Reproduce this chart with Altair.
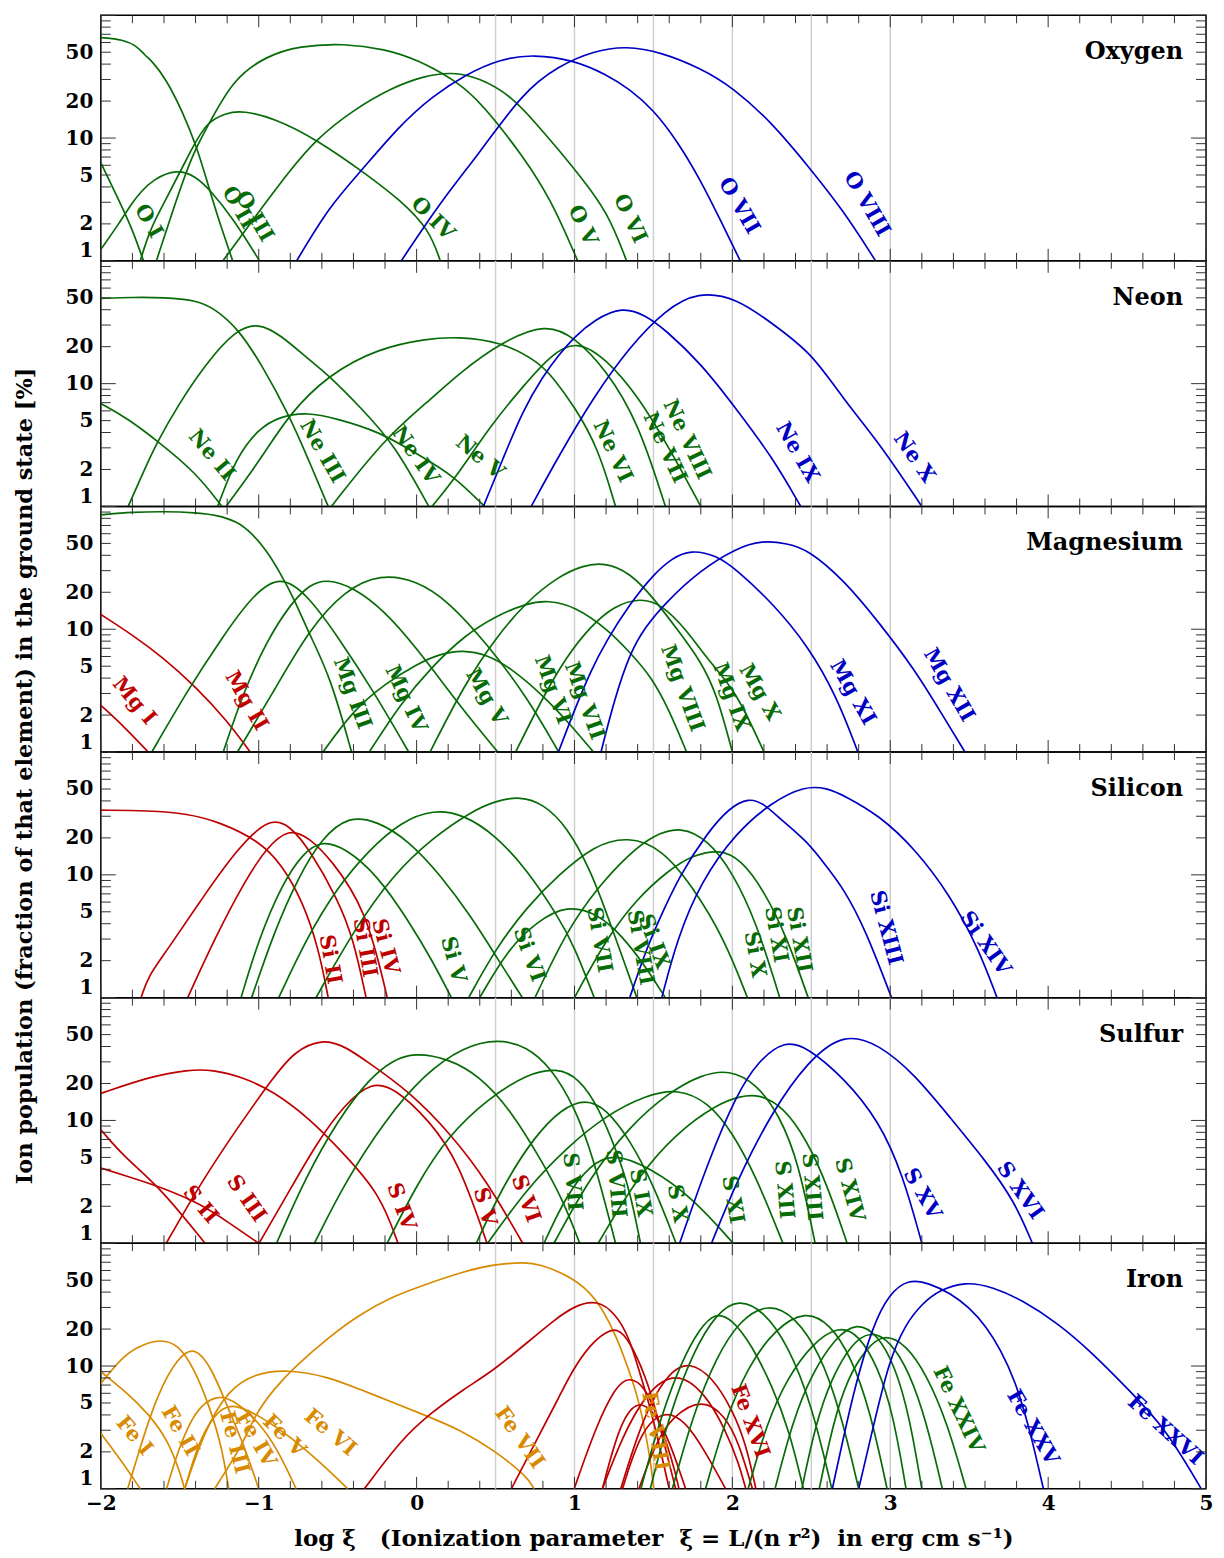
import altair as alt
import pandas as pd

GREEN = "#076b07"
BLUE = "#0000c4"
RED = "#bd0000"
ORANGE = "#d88a00"
GRID_COLOR = "#cfcfcf"
TICK_COLOR = "#333333"
FONT = "DejaVu Serif"

W, H = 1107, 246

NB = "\u00a0"
X_TITLE = f"log ξ{NB}{NB}{NB}(Ionization parameter{NB}{NB}ξ{NB}={NB}L/(n{NB}r²){NB}{NB}in erg{NB}cm{NB}s⁻¹)"
Y_TITLE = "Ion population (fraction of that element) in the ground state  [%]"

GRID_X = [0.5, 1.0, 1.5, 2.0, 2.5, 3.0]
X_TICK_LABELS = [-2, -1, 0, 1, 2, 3, 4, 5]
Y_TICK_LABELS = [1, 2, 5, 10, 20, 50]
X_MAJOR = [-2, -1, 0, 1, 2, 3, 4, 5]
X_MINOR = [round(-2 + 0.2 * i, 1) for i in range(36) if i % 5 != 0]
Y_MAJOR = [1, 10, 100]
Y_MINOR = [2, 3, 4, 5, 6, 7, 8, 9, 20, 30, 40, 50, 60, 70, 80, 90]

# ---------------- Oxygen ----------------
OXYGEN_CURVES = [
    ("O I", GREEN, [(-2, 6.3), (-1.88, 3.0), (-1.8, 1.8), (-1.73, 1.0)]),
    ("O II", GREEN, [(-2, 65.8), (-1.86, 63.5), (-1.77, 56), (-1.72, 47), (-1.68, 43), (-1.585, 30),
                     (-1.48, 16.1), (-1.395, 8.6), (-1.33, 4.6), (-1.27, 2.5), (-1.165, 1)]),
    ("O III", GREEN, [(-2, 1.24), (-1.88, 2.05), (-1.8, 3.0), (-1.75, 3.6), (-1.67, 4.6), (-1.52, 5.6),
                      (-1.4, 4.9), (-1.31, 3.8), (-1.16, 2.2), (-0.995, 1)]),
    ("O IV", GREEN, [(-1.75, 1), (-1.69, 1.8), (-1.585, 3.2), (-1.416, 8.6), (-1.33, 13.4), (-1.205, 16.1),
                     (-1.1, 16.7), (-0.9, 14.5), (-0.636, 9.8), (-0.32, 5.1), (-0.1, 3.1), (0.08, 1.8), (0.15, 1)]),
    ("O V", GREEN, [(-1.648, 1), (-1.52, 3.2), (-1.416, 7.6), (-1.31, 13.4), (-1.163, 30), (-0.952, 46.7),
                    (-0.742, 56.3), (-0.46, 59), (-0.2, 53), (0, 44), (0.31, 26.6), (0.49, 14.3), (0.67, 7.2),
                    (0.85, 3.2), (1.02, 1)]),
    ("O VI", GREEN, [(-1.227, 1), (-1.0, 2.5), (-0.8, 5.5), (-0.636, 9.8), (-0.4, 17), (-0.15, 26), (0.05, 32),
                     (0.22, 34.6), (0.4, 31), (0.6, 22), (0.76, 13), (0.9, 8), (1.03, 5), (1.21, 2.5), (1.33, 1)]),
    ("O VII", BLUE, [(-0.76, 1), (-0.55, 2.8), (-0.362, 5.2), (-0.109, 12.6), (0.101, 22), (0.313, 33),
                     (0.523, 43.8), (0.74, 48.2), (1.0, 43), (1.2, 33), (1.35, 25), (1.5, 17), (1.65, 9.5),
                     (1.8, 4.5), (1.92, 2.2), (2.05, 1)]),
    ("O VIII", BLUE, [(-0.097, 1), (0.15, 3), (0.4, 7.6), (0.672, 23.5), (0.898, 38.7), (1.124, 51.3),
                      (1.327, 56.3), (1.55, 50), (1.8, 37), (2.0, 26), (2.25, 13.4), (2.48, 5.9), (2.7, 2.6),
                      (2.907, 1)]),
]
OXYGEN_LABELS = [
    ("O I", GREEN, -1.70, 2.1, 60), ("O II", GREEN, -1.13, 2.7, 60), ("O III", GREEN, -1.03, 2.3, 60),
    ("O IV", GREEN, 0.10, 2.2, 45), ("O V", GREEN, 1.05, 1.94, 65), ("O VI", GREEN, 1.35, 2.2, 65),
    ("O VII", BLUE, 2.04, 2.8, 60), ("O VIII", BLUE, 2.85, 2.9, 60),
]

# ---------------- Neon ----------------
NEON_CURVES = [
    ("Ne II", GREEN, [(-2, 6.9), (-1.83, 5.2), (-1.64, 3.4), (-1.4, 1.9), (-1.233, 1)]),
    ("Ne III", GREEN, [(-2, 49.4), (-1.8, 50.5), (-1.6, 50.3), (-1.4, 48), (-1.28, 41), (-1.13, 28),
                       (-0.98, 14.2), (-0.81, 5.6), (-0.69, 2.5), (-0.56, 1)]),
    ("Ne IV", GREEN, [(-1.827, 1), (-1.72, 2.05), (-1.64, 3.4), (-1.51, 6.7), (-1.34, 14.2), (-1.15, 27.3),
                      (-1.0, 31.3), (-0.86, 24.8), (-0.69, 16), (-0.56, 11.8), (-0.35, 6.3), (-0.14, 3.2),
                      (0.077, 1)]),
    ("Ne V", GREEN, [(-1.26, 1), (-1.144, 2.5), (-1.0, 4.3), (-0.87, 5.4), (-0.69, 5.85), (-0.51, 5.2),
                     (-0.24, 4.1), (0.02, 2.6), (0.23, 1.8), (0.43, 1)]),
    ("Ne VI", GREEN, [(-1.207, 1), (-0.98, 2.5), (-0.81, 5.6), (-0.56, 11.8), (-0.245, 19.4), (0.07, 23.3),
                      (0.26, 24.1), (0.54, 21.9), (0.77, 15.1), (0.87, 11), (1.0, 6.5), (1.15, 3), (1.26, 1)]),
    ("Ne VII", GREEN, [(-0.54, 1), (-0.2, 3.6), (0.07, 7.1), (0.28, 12.5), (0.54, 21.9), (0.82, 31), (1.0, 24),
                       (1.2, 13), (1.4, 5), (1.576, 1)]),
    ("Ne VIII", GREEN, [(0.097, 1), (0.26, 1.8), (0.47, 4.6), (0.68, 9.7), (0.85, 17.1), (1.01, 22.7),
                        (1.2, 16), (1.4, 8), (1.6, 3), (1.8, 1)]),
    ("Ne IX", BLUE, [(0.423, 1), (0.55, 2.5), (0.672, 6), (0.8, 11.5), (0.898, 17), (1.0, 24), (1.124, 33),
                     (1.304, 42.5), (1.45, 36), (1.576, 27.4), (1.8, 14.7), (2.03, 6.1), (2.25, 2.55),
                     (2.433, 1)]),
    ("Ne X", BLUE, [(0.726, 1), (0.898, 2.55), (1.124, 7.9), (1.35, 20), (1.576, 40), (1.78, 56.3),
                    (2.03, 49.7), (2.25, 31), (2.5, 18), (2.705, 7.4), (2.93, 3.3), (3.2, 1)]),
]
NEON_LABELS = [
    ("Ne II", GREEN, -1.30, 2.6, 50), ("Ne III", GREEN, -0.60, 2.8, 60), ("Ne IV", GREEN, -0.01, 2.6, 55),
    ("Ne V", GREEN, 0.40, 2.5, 40), ("Ne VI", GREEN, 1.24, 2.8, 65), ("Ne VII", GREEN, 1.57, 3.0, 65),
    ("Ne VIII", GREEN, 1.71, 3.5, 65), ("Ne IX", BLUE, 2.41, 2.75, 60), ("Ne X", BLUE, 3.15, 2.5, 55),
]

# ---------------- Magnesium ----------------
MAGNESIUM_CURVES = [
    ("Mg I", RED, [(-2, 2.4), (-1.85, 1.6), (-1.7, 1)]),
    ("Mg II", RED, [(-2, 13.2), (-1.8, 9), (-1.6, 5.8), (-1.4, 3.4), (-1.2, 1.8), (-1.054, 1)]),
    ("Mg III", GREEN, [(-2, 85.5), (-1.8, 90), (-1.586, 91), (-1.4, 89), (-1.27, 85.5), (-1.135, 75.5),
                       (-1.045, 60.7), (-0.954, 44.4), (-0.863, 28.7), (-0.773, 17.4), (-0.683, 9.3),
                       (-0.547, 4.15), (-0.412, 1)]),
    ("Mg IV", GREEN, [(-1.677, 1), (-1.45, 3.2), (-1.225, 8.8), (-1.045, 18.5), (-0.863, 28.2), (-0.683, 18.5),
                      (-0.502, 8.8), (-0.277, 3.2), (-0.05, 1)]),
    ("Mg V", GREEN, [(-1.225, 1), (-1.1, 3), (-0.95, 8), (-0.8, 16), (-0.68, 23), (-0.57, 25.7), (-0.4, 22),
                     (-0.2, 14), (0.0, 7), (0.2, 3.2), (0.35, 1.8), (0.514, 1)]),
    ("Mg VI", GREEN, [(-1.135, 1), (-0.9, 3.2), (-0.68, 10), (-0.45, 21), (-0.23, 28.2), (0.0, 25), (0.2, 17),
                      (0.45, 7.5), (0.7, 2.8), (0.9, 1)]),
    ("Mg VII", GREEN, [(-0.593, 1), (-0.4, 2.2), (-0.2, 3.6), (0, 5.2), (0.15, 6.3), (0.288, 6.8), (0.45, 6.2),
                       (0.6, 4.8), (0.8, 2.9), (0.97, 1.7), (1.12, 1)]),
    ("Mg VIII", GREEN, [(-0.3, 1), (-0.1, 2.5), (0.1, 5), (0.3, 8.8), (0.5, 12.8), (0.7, 16.3), (0.83, 17.2),
                        (1.0, 15.5), (1.214, 9.9), (1.35, 6.5), (1.484, 4.15), (1.6, 2.2), (1.71, 1)]),
    ("Mg IX", GREEN, [(0.085, 1), (0.3, 3.5), (0.5, 8.5), (0.7, 17), (0.9, 27), (1.05, 33), (1.19, 35),
                      (1.35, 29), (1.5, 18), (1.65, 10), (1.8, 5.5), (1.9, 3), (2.0, 1)]),
    ("Mg X", GREEN, [(0.627, 1), (0.8, 2.8), (0.95, 6), (1.1, 10.5), (1.25, 15.5), (1.417, 18), (1.55, 16),
                     (1.71, 9.9), (1.85, 5.5), (2.02, 3.2), (2.2, 1)]),
    ("Mg XI", BLUE, [(0.898, 1), (1.0, 2.2), (1.1, 4.5), (1.2, 8), (1.35, 16), (1.5, 28), (1.62, 38),
                     (1.733, 44.4), (1.9, 40), (2.027, 30.5), (2.253, 16.4), (2.48, 7.3), (2.66, 2.85),
                     (2.795, 1)]),
    ("Mg XII", BLUE, [(1.168, 1), (1.25, 2.6), (1.35, 6.4), (1.45, 10.5), (1.575, 16.4), (1.8, 30.5),
                      (2.027, 45.8), (2.185, 52.9), (2.35, 50), (2.48, 44.4), (2.705, 25.3), (2.93, 11.3),
                      (3.155, 4.7), (3.335, 1.96), (3.473, 1)]),
]
MAGNESIUM_LABELS = [
    ("Mg I", RED, -1.79, 2.6, 50), ("Mg II", RED, -1.08, 2.6, 60), ("Mg III", GREEN, -0.41, 3.0, 70),
    ("Mg IV", GREEN, -0.07, 2.7, 65), ("Mg V", GREEN, 0.44, 2.8, 60), ("Mg VI", GREEN, 0.86, 3.2, 70),
    ("Mg VII", GREEN, 1.06, 2.6, 70), ("Mg VIII", GREEN, 1.68, 3.3, 70), ("Mg IX", GREEN, 1.99, 2.8, 70),
    ("Mg X", GREEN, 2.17, 3.05, 60), ("Mg XI", BLUE, 2.76, 3.05, 60), ("Mg XII", BLUE, 3.37, 3.5, 60),
]

# ---------------- Silicon ----------------
SILICON_CURVES = [
    ("Si II", RED, [(-2, 33.6), (-1.7, 33.4), (-1.45, 31.5), (-1.25, 27), (-1.0, 19), (-0.85, 12), (-0.72, 6),
                    (-0.62, 2.5), (-0.56, 1)]),
    ("Si III", RED, [(-1.745, 1), (-1.7, 1.5), (-1.586, 2.37), (-1.36, 6.4), (-1.135, 16.4), (-0.93, 29.6),
                     (-0.8, 25), (-0.683, 16.4), (-0.5, 6.4), (-0.4, 3), (-0.32, 1)]),
    ("Si IV", RED, [(-1.45, 1), (-1.27, 3.2), (-1.09, 8.8), (-0.954, 16.4), (-0.81, 24.1), (-0.68, 20),
                    (-0.547, 13.6), (-0.32, 5.3), (-0.186, 1)]),
    ("Si V", GREEN, [(-1.112, 1), (-1.0, 3), (-0.85, 8.5), (-0.72, 15), (-0.6, 19.1), (-0.45, 16.5),
                     (-0.25, 10), (-0.05, 4.2), (0.1, 2), (0.22, 1)]),
    ("Si VI", GREEN, [(-1.045, 1), (-0.9, 3.5), (-0.75, 9.5), (-0.6, 20), (-0.43, 30.2), (-0.25, 27.5),
                      (-0.05, 19), (0.15, 10), (0.35, 4.5), (0.52, 2), (0.67, 1)]),
    ("Si VII", GREEN, [(-0.873, 1), (-0.7, 3), (-0.5, 8), (-0.3, 16), (-0.1, 27), (0.107, 34.2), (0.3, 31),
                       (0.5, 21), (0.7, 11), (0.9, 4.5), (1.0, 2.6), (1.125, 1)]),
    ("Si VIII", GREEN, [(-0.637, 1), (-0.4, 3.5), (-0.15, 10), (0.1, 20), (0.35, 33), (0.5, 40), (0.658, 43.6),
                        (0.8, 38), (0.95, 25), (1.1, 11), (1.2, 5), (1.3, 2.2), (1.395, 1)]),
    ("Si IX", GREEN, [(0.4, 1), (0.58, 2.5), (0.762, 4.15), (0.95, 5.7), (1.15, 4.8), (1.3, 3.2), (1.45, 1.8),
                      (1.575, 1)]),
    ("Si X", GREEN, [(0.33, 1), (0.5, 2.5), (0.7, 5.5), (0.9, 10), (1.125, 17.4), (1.34, 20.6), (1.55, 16.5),
                     (1.75, 8), (1.95, 3), (2.095, 1)]),
    ("Si XI", GREEN, [(0.75, 1), (0.95, 3.5), (1.15, 8), (1.35, 15), (1.5, 21), (1.675, 24.9), (1.85, 19),
                      (2.0, 10.5), (2.15, 4.2), (2.3, 1)]),
    ("Si XII", GREEN, [(1.0, 1), (1.2, 3), (1.4, 6.5), (1.6, 11), (1.75, 14.5), (1.919, 16.1), (2.05, 13.5),
                       (2.2, 7.5), (2.35, 3), (2.48, 1)]),
    ("Si XIII", BLUE, [(1.35, 1), (1.44, 2.2), (1.53, 4.15), (1.665, 9.9), (1.846, 22.4), (1.98, 35),
                       (2.104, 42.5), (2.2, 38), (2.3, 28.7), (2.48, 18.5), (2.6, 11.5), (2.705, 7.7),
                       (2.84, 3.66), (3.008, 1)]),
    ("Si XIV", BLUE, [(1.553, 1), (1.65, 3), (1.8, 8.8), (2.027, 22.4), (2.253, 39.2), (2.456, 52.9),
                      (2.6, 51), (2.705, 44.4), (2.93, 30.5), (3.155, 16.4), (3.38, 6.8), (3.56, 2.5),
                      (3.676, 1)]),
]
SILICON_LABELS = [
    ("Si II", RED, -0.55, 2.04, 80), ("Si III", RED, -0.33, 2.55, 80), ("Si IV", RED, -0.2, 2.6, 75),
    ("Si V", GREEN, 0.23, 2.04, 75), ("Si VI", GREEN, 0.71, 2.24, 70), ("Si VII", GREEN, 1.155, 2.95, 80),
    ("Si VIII", GREEN, 1.415, 2.55, 80), ("Si IX", GREEN, 1.5, 2.85, 70), ("Si X", GREEN, 2.14, 2.24, 80),
    ("Si XI", GREEN, 2.275, 3.25, 80), ("Si XII", GREEN, 2.42, 2.95, 80), ("Si XIII", BLUE, 2.97, 3.7, 75),
    ("Si XIV", BLUE, 3.6, 2.75, 55),
]

# ---------------- Sulfur ----------------
SULFUR_CURVES = [
    ("S II", RED, [(-2, 8.4), (-1.85, 5), (-1.63, 2.9), (-1.34, 1)]),
    ("S III", RED, [(-2, 4.1), (-1.8, 3.4), (-1.63, 2.9), (-1.36, 2.07), (-1.2, 1.5), (-1.0, 1)]),
    ("S IV", RED, [(-2, 16.6), (-1.677, 23), (-1.45, 25.8), (-1.293, 26), (-1.1, 22.5), (-0.909, 17.3),
                   (-0.683, 10.5), (-0.457, 5.3), (-0.23, 2.5), (-0.118, 1)]),
    ("S V", RED, [(-0.998, 1), (-0.818, 2.5), (-0.638, 6.4), (-0.457, 13.5), (-0.286, 20.7), (-0.14, 18.5),
                  (0.084, 9.9), (0.265, 4.66), (0.446, 1)]),
    ("S VI", RED, [(-1.586, 1), (-1.36, 3.2), (-1.135, 8.7), (-0.909, 22.3), (-0.773, 36.7), (-0.6, 46.3),
                   (-0.45, 40), (-0.32, 30.5), (-0.05, 17.4), (0.22, 7.7), (0.446, 3.2), (0.672, 1)]),
    ("S VII", GREEN, [(-0.887, 1), (-0.7, 3.5), (-0.5, 10), (-0.3, 22), (-0.15, 31), (-0.015, 35.6), (0.2, 32),
                      (0.4, 23), (0.6, 12), (0.8, 4.5), (0.93, 2.2), (1.033, 1)]),
    ("S VIII", GREEN, [(-0.647, 1), (-0.45, 3.2), (-0.2, 10), (0.05, 24), (0.3, 40), (0.514, 46.3), (0.7, 40),
                       (0.85, 27), (1.0, 13), (1.12, 5), (1.26, 1)]),
    ("S IX", GREEN, [(-0.186, 1), (0.0, 3), (0.2, 7.5), (0.45, 15), (0.7, 24), (0.889, 26.9), (1.03, 22),
                     (1.15, 13), (1.27, 5.5), (1.35, 2.7), (1.418, 1)]),
    ("S X", GREEN, [(0.378, 1), (0.55, 3), (0.75, 7.5), (0.92, 12.5), (1.07, 15), (1.2, 12.5), (1.35, 7),
                    (1.5, 3), (1.643, 1)]),
    ("S XI", GREEN, [(0.807, 1), (0.95, 2.5), (1.1, 4.3), (1.237, 5.45), (1.485, 4.1), (1.755, 2.3), (2.005, 1)]),
    ("S XII", GREEN, [(0.45, 1), (0.7, 2.8), (0.95, 6), (1.2, 11), (1.45, 16), (1.657, 18.2), (1.85, 14),
                      (2.0, 8), (2.15, 3.5), (2.32, 1)]),
    ("S XIII", GREEN, [(0.87, 1), (1.1, 3.5), (1.35, 9), (1.6, 17), (1.8, 23.5), (1.982, 26), (2.15, 20),
                       (2.3, 11), (2.42, 4.5), (2.524, 1)]),
    ("S XIV", GREEN, [(1.15, 1), (1.4, 3.5), (1.65, 8), (1.9, 13.5), (2.05, 15.8), (2.172, 16.3), (2.32, 13),
                      (2.47, 7), (2.6, 3), (2.727, 1)]),
    ("S XV", BLUE, [(1.666, 1), (1.847, 4.66), (2.027, 16.3), (2.163, 30.5), (2.335, 45.2), (2.479, 39.1),
                    (2.705, 22.3), (2.93, 9.9), (3.08, 3.6), (3.2, 1)]),
    ("S XVI", BLUE, [(1.868, 1), (2.027, 3.2), (2.253, 11.9), (2.479, 30.5), (2.705, 51.8), (2.93, 41.7),
                     (3.155, 23.7), (3.38, 10.5), (3.606, 4.66), (3.787, 2.2), (3.9, 1)]),
]
SULFUR_LABELS = [
    ("S II", RED, -1.37, 2.06, 50), ("S III", RED, -1.08, 2.3, 55), ("S IV", RED, -0.1, 1.98, 70),
    ("S V", RED, 0.43, 1.98, 75), ("S VI", RED, 0.69, 2.3, 70), ("S VII", GREEN, 0.985, 3.16, 85),
    ("S VIII", GREEN, 1.26, 3.05, 85), ("S IX", GREEN, 1.415, 2.57, 80), ("S X", GREEN, 1.65, 2.1, 80),
    ("S XI", GREEN, 2.0, 2.26, 80), ("S XII", GREEN, 2.325, 2.72, 85), ("S XIII", GREEN, 2.5, 2.88, 85),
    ("S XIV", GREEN, 2.74, 2.72, 75), ("S XV", BLUE, 3.2, 2.52, 60), ("S XVI", BLUE, 3.82, 2.67, 55),
]

# ---------------- Iron ----------------
IRON_CURVES = [
    ("Fe I", ORANGE, [(-2, 2.83), (-1.87, 1.7), (-1.75, 1)]),
    ("Fe II", ORANGE, [(-2, 9.0), (-1.83, 6.0), (-1.7, 4.1), (-1.574, 2.5), (-1.49, 1.26), (-1.47, 1)]),
    ("Fe III", ORANGE, [(-2, 7.2), (-1.85, 12.6), (-1.72, 15.2), (-1.627, 16.4), (-1.51, 15.2), (-1.405, 9.3),
                        (-1.32, 5.0), (-1.236, 2.3), (-1.19, 1)]),
    ("Fe IV", ORANGE, [(-1.83, 1), (-1.75, 2.2), (-1.64, 6.0), (-1.51, 11.9), (-1.405, 14.5), (-1.3, 9.8),
                       (-1.19, 4.4), (-1.09, 2.2), (-1.0, 1)]),
    ("Fe V", ORANGE, [(-1.584, 1), (-1.51, 2.07), (-1.405, 4.4), (-1.265, 5.9), (-1.15, 5.2), (-1.0, 3.5),
                      (-0.88, 2.1), (-0.763, 1)]),
    ("Fe VI", ORANGE, [(-1.468, 1), (-1.384, 2.35), (-1.28, 4.1), (-1.173, 5.1), (-0.983, 3.86), (-0.8, 2.66),
                       (-0.6, 1.6), (-0.436, 1)]),
    ("Fe VII", ORANGE, [(-1.469, 1), (-1.342, 3.0), (-1.194, 6.4), (-1.025, 8.7), (-0.816, 9.4), (-0.563, 8.2),
                        (-0.352, 6.4), (-0.141, 5.0), (0.07, 3.9), (0.28, 3.0), (0.49, 2.07), (0.7, 1.26),
                        (0.744, 1)]),
    ("Fe VIII", ORANGE, [(-1.28, 1), (-1.1, 2.3), (-1.025, 4.0), (-0.9, 6.6), (-0.773, 9.85), (-0.55, 17.5),
                         (-0.352, 26.7), (-0.15, 37), (0.07, 46.9), (0.3, 59), (0.49, 67.3), (0.68, 69.8),
                         (0.776, 68), (0.987, 53), (1.135, 36.5), (1.26, 18.4), (1.345, 9.2), (1.408, 5.3),
                         (1.472, 2.07), (1.503, 1)]),
    ("Fe IX", RED, [(-0.331, 1), (-0.1, 2.5), (0.084, 4.1), (0.3, 6.5), (0.49, 9.25), (0.7, 15.5), (0.87, 23.6),
                    (1.0, 31), (1.145, 34.7), (1.26, 26.7), (1.345, 17.3), (1.408, 9.25), (1.472, 5.0),
                    (1.535, 2.35), (1.6, 1)]),
    ("Fe X", RED, [(0.6, 1), (0.776, 2.74), (0.9, 5.5), (0.987, 9.25), (1.1, 15), (1.2, 19), (1.272, 20.4),
                   (1.35, 16), (1.451, 8.2), (1.515, 4.4), (1.578, 2.07), (1.641, 1)]),
    ("Fe XI", RED, [(0.998, 1), (1.135, 3.2), (1.26, 6.8), (1.345, 8.25), (1.45, 6.8), (1.535, 3.6),
                    (1.62, 1.7), (1.662, 1)]),
    ("Fe XII", RED, [(1.177, 1), (1.28, 3.2), (1.388, 5.3), (1.5, 4.4), (1.6, 2.5), (1.704, 1)]),
    ("Fe XIII", RED, [(1.304, 1), (1.42, 3.0), (1.567, 4.4), (1.7, 3.6), (1.83, 2.0), (1.957, 1)]),
    ("Fe XIV", RED, [(1.177, 1), (1.3, 2.6), (1.45, 6.0), (1.64, 9.25), (1.83, 6.0), (1.957, 3.0), (2.042, 1.6),
                     (2.085, 1)]),
    ("Fe XV", RED, [(1.408, 1), (1.513, 2.35), (1.62, 3.9), (1.81, 5.5), (1.957, 3.9), (2.042, 2.35),
                    (2.127, 1)]),
    ("Fe XVI", RED, [(1.293, 1), (1.408, 3.0), (1.513, 6.0), (1.62, 9.25), (1.725, 10.8), (1.873, 8.2),
                     (2.0, 4.4), (2.085, 2.35), (2.149, 1)]),
    ("Fe XVII", GREEN, [(1.42, 1), (1.55, 4), (1.68, 11), (1.79, 20), (1.894, 27.6), (2.0, 24), (2.12, 15),
                        (2.25, 7), (2.36, 3), (2.45, 1)]),
    ("Fe XVIII", GREEN, [(1.48, 1), (1.6, 4), (1.75, 13), (1.9, 27), (2.041, 35.4), (2.2, 28), (2.35, 15),
                         (2.5, 5), (2.63, 1)]),
    ("Fe XIX", GREEN, [(1.62, 1), (1.75, 4), (1.9, 12), (2.05, 24), (2.231, 32.7), (2.4, 25), (2.55, 13),
                       (2.68, 4.5), (2.8, 1)]),
    ("Fe XX", GREEN, [(1.83, 1), (1.95, 3.5), (2.1, 10), (2.27, 20), (2.463, 28.5), (2.62, 22), (2.75, 12),
                      (2.87, 4.5), (2.98, 1)]),
    ("Fe XXI", GREEN, [(2.1, 1), (2.22, 3.5), (2.35, 8), (2.5, 15), (2.674, 21.5), (2.8, 18), (2.92, 10),
                       (3.02, 4), (3.1, 1)]),
    ("Fe XXII", GREEN, [(2.27, 1), (2.38, 3.5), (2.5, 8.5), (2.65, 17), (2.79, 22.9), (2.92, 18), (3.03, 10),
                        (3.12, 4), (3.2, 1)]),
    ("Fe XXIII", GREEN, [(2.44, 1), (2.53, 3.5), (2.63, 8), (2.75, 15), (2.874, 19.5), (3.0, 16), (3.12, 9),
                         (3.23, 3.5), (3.33, 1)]),
    ("Fe XXIV", GREEN, [(2.55, 1), (2.64, 3.5), (2.73, 8), (2.85, 14), (2.959, 18.4), (3.1, 15), (3.23, 8.5),
                        (3.36, 3.5), (3.48, 1)]),
    ("Fe XXV", BLUE, [(2.633, 1), (2.7, 2.5), (2.781, 7.2), (2.887, 20.8), (2.992, 38.8), (3.118, 51.4),
                      (3.25, 47), (3.382, 39.2), (3.5, 30), (3.608, 21), (3.7, 13.5), (3.789, 7.7), (3.88, 3.2),
                      (3.97, 1)]),
    ("Fe XXVI", BLUE, [(2.8, 1), (2.887, 3.0), (2.992, 11.1), (3.098, 22.1), (3.2, 32), (3.308, 41.4),
                       (3.476, 48.9), (3.65, 44), (3.833, 34.6), (4.06, 22.4), (4.28, 12.8), (4.51, 6.4),
                       (4.737, 3.2), (4.97, 1)]),
]
IRON_LABELS = [
    ("Fe I", ORANGE, -1.79, 2.69, 50), ("Fe II", ORANGE, -1.5, 2.95, 60), ("Fe III", ORANGE, -1.157, 2.38, 75),
    ("Fe IV", ORANGE, -1.02, 2.53, 60), ("Fe V", ORANGE, -0.84, 2.69, 45), ("Fe VI", ORANGE, -0.548, 2.86, 40),
    ("Fe VII", ORANGE, 0.65, 2.6, 55), ("Fe VIII", ORANGE, 1.51, 2.95, 80), ("Fe XVI", RED, 2.11, 3.56, 70),
    ("Fe XXIV", GREEN, 3.43, 4.4, 65), ("Fe XXV", BLUE, 3.9, 3.15, 60), ("Fe XXVI", BLUE, 4.74, 3.0, 42),
]

PANELS = [
    ("Oxygen", OXYGEN_CURVES, OXYGEN_LABELS),
    ("Neon", NEON_CURVES, NEON_LABELS),
    ("Magnesium", MAGNESIUM_CURVES, MAGNESIUM_LABELS),
    ("Silicon", SILICON_CURVES, SILICON_LABELS),
    ("Sulfur", SULFUR_CURVES, SULFUR_LABELS),
    ("Iron", IRON_CURVES, IRON_LABELS),
]


def x_enc(field, bottom):
    scale = alt.Scale(domain=[-2, 5], nice=False, zero=False)
    if bottom:
        axis = alt.Axis(values=X_TICK_LABELS, format="d", ticks=False, tickSize=0, domain=False, grid=False,
                        labelFont=FONT, labelFontSize=20, labelFontWeight="bold", labelColor="black",
                        labelPadding=5, labelFlush=False,
                        title=X_TITLE, titleFont=FONT, titleFontSize=23, titleFontWeight="bold",
                        titleColor="black", titlePadding=14)
        return alt.X(f"{field}:Q", scale=scale, axis=axis)
    return alt.X(f"{field}:Q", scale=scale, axis=None)


def y_enc(field):
    return alt.Y(f"{field}:Q", scale=alt.Scale(type="log", domain=[1, 100], nice=False),
                 axis=alt.Axis(values=Y_TICK_LABELS, format="d", ticks=False, tickSize=0, domain=False,
                               grid=False, labelFont=FONT, labelFontSize=20, labelFontWeight="bold",
                               labelColor="black", labelPadding=8, labelFlush=True, title=None))


def tick_layers(bottom):
    layers = []
    for vals, length in ((X_MAJOR, 12), (X_MINOR, 8)):
        d = pd.DataFrame({"t": vals})
        layers.append(alt.Chart(d).mark_rule(color=TICK_COLOR, strokeWidth=1).encode(
            x=x_enc("t", bottom), y=alt.value(0), y2=alt.value(length)))
        layers.append(alt.Chart(d).mark_rule(color=TICK_COLOR, strokeWidth=1).encode(
            x=x_enc("t", bottom), y=alt.value(H), y2=alt.value(H - length)))
    for vals, length in ((Y_MAJOR, 15), (Y_MINOR, 10)):
        d = pd.DataFrame({"t": vals})
        layers.append(alt.Chart(d).mark_rule(color=TICK_COLOR, strokeWidth=1).encode(
            y=y_enc("t"), x=alt.value(0), x2=alt.value(length)))
        layers.append(alt.Chart(d).mark_rule(color=TICK_COLOR, strokeWidth=1).encode(
            y=y_enc("t"), x=alt.value(W), x2=alt.value(W - length)))
    return layers


def make_panel(name, curves, labels, bottom, with_ytitle):
    cdf = pd.DataFrame([{"ion": n, "c": col, "x": x, "y": y} for n, col, pts in curves for x, y in pts])
    ldf = pd.DataFrame([{"t": t, "c": col, "x": x, "y": y, "a": a} for t, col, x, y, a in labels])
    grid = alt.Chart(pd.DataFrame({"g": GRID_X})).mark_rule(color=GRID_COLOR, strokeWidth=1.5).encode(
        x=x_enc("g", bottom))
    lines = alt.Chart(cdf).mark_line(strokeWidth=1.7, interpolate="basis", clip=True).encode(
        x=x_enc("x", bottom), y=y_enc("y"), color=alt.Color("c:N", scale=None), detail="ion:N",
        order="x:Q")
    text = alt.Chart(ldf).mark_text(font=FONT, fontSize=21, fontWeight="bold", align="center",
                                    baseline="middle").encode(
        x=x_enc("x", bottom), y=y_enc("y"), text="t:N", angle=alt.Angle("a:Q", scale=None),
        color=alt.Color("c:N", scale=None))
    title = alt.Chart(pd.DataFrame({"t": [name], "x": [4.855], "y": [50]})).mark_text(
        font=FONT, fontSize=24, fontWeight="bold", align="right", baseline="middle", color="black").encode(
        x=x_enc("x", bottom), y=y_enc("y"), text="t:N")
    layers = [grid, lines, text, title] + tick_layers(bottom)
    if with_ytitle:
        layers.append(alt.Chart(pd.DataFrame({"t": [Y_TITLE]})).mark_text(
            font=FONT, fontSize=22.5, fontWeight="bold", angle=270, align="center", baseline="middle",
            color="black").encode(x=alt.value(-76), y=alt.value(H + 24), text="t:N"))
    return alt.layer(*layers).properties(width=W, height=H)


panels = []
for i, (name, curves, labels) in enumerate(PANELS):
    panels.append(make_panel(name, curves, labels, bottom=(i == len(PANELS) - 1), with_ytitle=(i == 2)))

chart = alt.vconcat(*panels, spacing=0, bounds="flush").properties(
    padding={"left": 13, "top": 12, "right": 10, "bottom": 5}
).configure_view(stroke="black", strokeWidth=1.5)

chart.save("out.html", embed_options={"renderer": "svg", "actions": False})
